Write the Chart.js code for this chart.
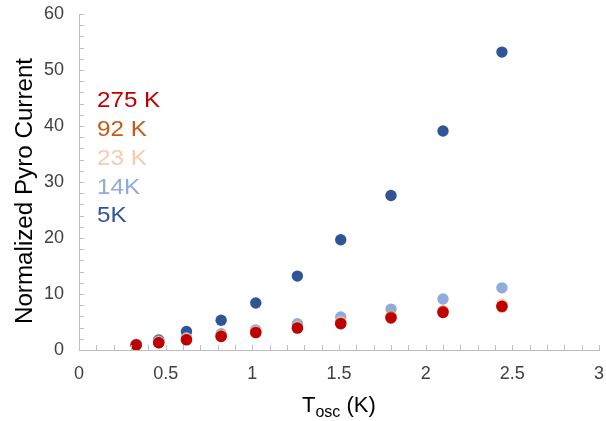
<!DOCTYPE html>
<html>
<head>
<meta charset="utf-8">
<script src="https://cdn.jsdelivr.net/npm/chart.js@4"></script>
<style>
html,body{margin:0;padding:0;background:#fff;}
#wrap{width:606px;height:421px;position:relative;}
</style>
</head>
<body>
<div id="wrap"><canvas id="c" width="606" height="421"></canvas></div>
<script>
const tosc = [0.33, 0.46, 0.62, 0.82, 1.02, 1.26, 1.51, 1.80, 2.10, 2.44];
const k275 = [0.9, 1.3, 1.8, 2.4, 3.1, 3.9, 4.7, 5.7, 6.7, 7.8];
const k92  = [0.9, 1.3, 1.9, 2.5, 3.2, 4.0, 4.8, 5.9, 6.9, 7.7];
const k23  = [0.9, 1.4, 2.0, 2.6, 3.3, 4.1, 5.0, 6.0, 7.0, 8.2];
const k14  = [1.0, 1.6, 2.2, 2.9, 3.6, 4.7, 5.9, 7.3, 9.1, 11.1];
const k5   = [1.0, 1.8, 3.3, 5.3, 8.4, 13.2, 19.7, 27.6, 39.1, 53.2];
const seriesNames = ['275 K', '92 K', '23 K', '14K', '5K'];
const seriesColors = ['#C00000', '#C55A11', '#F8CBAD', '#8FAADC', '#2F5597'];
const seriesValues = [k275, k92, k23, k14, k5];
const xTickLabels = ['0', '0.5', '1', '1.5', '2', '2.5', '3'];
const yTickLabels = ['0', '10', '20', '30', '40', '50', '60'];

const FONT = '"Liberation Sans", Arial, sans-serif';
const AXIS_COLOR = '#BFBFBF';

// Chart.js draws dataset 0 on top: 275 K on top, 5K at the bottom
const datasets = seriesNames.map((name, i) => ({
  label: name,
  data: tosc.map((x, j) => ({x: x, y: seriesValues[i][j]})),
  backgroundColor: seriesColors[i],
  borderColor: seriesColors[i],
  borderWidth: 0,
  pointRadius: 5.7,
  pointHoverRadius: 5.7
}));

const decor = {
  id: 'decor',
  afterDraw(chart) {
    const ctx = chart.ctx;
    const xs = chart.scales.x, ys = chart.scales.y;
    const area = chart.chartArea;
    ctx.save();
    // inward tick marks
    ctx.strokeStyle = AXIS_COLOR;
    ctx.lineWidth = 1;
    ctx.beginPath();
    for (let v = 1; v <= 30; v++) {
      const px = Math.round(xs.getPixelForValue(v / 10)) + 0.5;
      ctx.moveTo(px, area.bottom);
      ctx.lineTo(px, area.bottom - 5);
    }
    for (let v = 2; v <= 60; v += 2) {
      const py = Math.round(ys.getPixelForValue(v)) + 0.5;
      ctx.moveTo(area.left, py);
      ctx.lineTo(area.left + 5, py);
    }
    ctx.stroke();

    // series labels inside plot
    ctx.textBaseline = 'middle';
    ctx.textAlign = 'left';
    const ys0 = [101, 130, 159, 188, 216];
    for (let i = 0; i < seriesNames.length; i++) {
      ctx.save();
      ctx.translate(97, ys0[i]);
      ctx.scale(1.1, 1);
      ctx.font = '22px ' + FONT;
      ctx.fillStyle = seriesColors[i];
      ctx.fillText(seriesNames[i], 0, 0);
      ctx.restore();
    }

    // y axis title
    ctx.fillStyle = '#000000';
    ctx.save();
    ctx.translate(25, 191);
    ctx.rotate(-Math.PI / 2);
    ctx.font = '24.2px ' + FONT;
    ctx.textAlign = 'center';
    ctx.textBaseline = 'middle';
    ctx.fillText('Normalized Pyro Current', 0, 0);
    ctx.restore();

    // x axis title with subscript
    const big = '22px ' + FONT, small = '16px ' + FONT;
    ctx.textBaseline = 'alphabetic';
    ctx.textAlign = 'left';
    ctx.font = big; const wT = ctx.measureText('T').width;
    ctx.font = small; const wS = ctx.measureText('osc').width;
    const x0 = 302;
    ctx.font = big; ctx.fillText('T', x0, 412);
    ctx.font = small; ctx.fillText('osc', x0 + wT, 417);
    ctx.font = big; ctx.fillText(' (K)', x0 + wT + wS, 412);
    ctx.restore();
  }
};

new Chart(document.getElementById('c'), {
  type: 'scatter',
  data: {datasets: datasets},
  options: {
    responsive: false,
    animation: false,
    devicePixelRatio: 1,
    layout: {padding: {left: 0, right: 7, top: 14, bottom: 0}},
    plugins: {legend: {display: false}, tooltip: {enabled: false}},
    scales: {
      x: {
        type: 'linear', min: 0, max: 3,
        grid: {display: false, drawTicks: false},
        border: {display: true, color: AXIS_COLOR, width: 1},
        ticks: {
          stepSize: 0.5, padding: 13, color: '#404040',
          font: {family: FONT, size: 18},
          maxRotation: 0,
          callback: (v, i) => xTickLabels[i] !== undefined ? xTickLabels[i] : ''
        },
        afterFit(scale) {
          scale.height = 71;
          scale.paddingLeft = 0; scale.paddingRight = 0;
        }
      },
      y: {
        type: 'linear', min: 0, max: 60,
        grid: {display: false, drawTicks: false},
        border: {display: true, color: AXIS_COLOR, width: 1},
        ticks: {
          stepSize: 10, padding: 15, color: '#404040',
          font: {family: FONT, size: 18},
          callback: (v, i) => yTickLabels[i] !== undefined ? yTickLabels[i] : ''
        },
        afterFit(scale) {
          scale.width = 79;
          scale.paddingTop = 0; scale.paddingBottom = 0;
        }
      }
    }
  },
  plugins: [decor]
});
</script>
</body>
</html>
